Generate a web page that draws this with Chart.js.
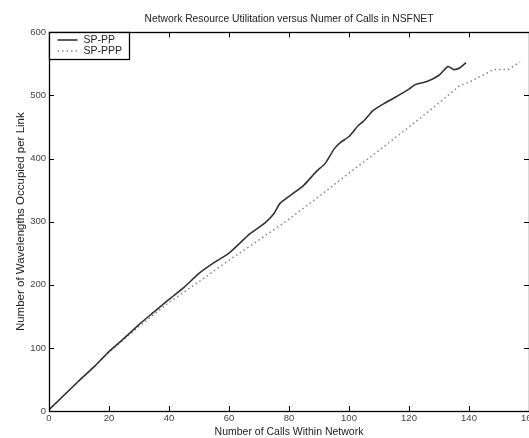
<!DOCTYPE html>
<html>
<head>
<meta charset="utf-8">
<script src="https://cdn.jsdelivr.net/npm/chart.js@4.4.1/dist/chart.umd.min.js"></script>
<style>
  html, body { margin: 0; padding: 0; background: #fff; }
  #wrap { width: 529px; height: 438px; }
</style>
</head>
<body>
<div id="wrap"><canvas id="plot" width="529" height="438"></canvas></div>
<script>
// values
const ppCalls = [0, 5, 10, 15, 20, 25, 30, 35, 40, 45, 50, 55, 60, 67, 72, 75, 77, 80, 85, 89, 92, 95, 97, 100, 103, 105, 108, 112, 115, 120, 122, 126, 130, 133, 135, 137, 139];
const ppWavelengths = [2, 25, 48, 70, 94, 115, 137, 157, 177, 196, 218, 235, 250, 281, 298, 313, 329, 340, 358, 379, 392, 415, 425, 435, 452, 460, 476, 488, 496, 510, 517, 522, 532, 546, 541, 544, 552];

const pppCalls = [0, 10, 20, 30, 40, 50, 60, 70, 80, 90, 100, 110, 120, 130, 137, 140, 145, 148, 153, 157];
const pppWavelengths = [2, 48, 93, 134, 172, 205, 239, 271, 304, 340, 377, 413, 450, 488, 516, 521, 533, 541, 541, 553];

const seriesNames = ["SP-PP", "SP-PPP"];
const xRange = [0, 160];
const yRange = [0, 600];

const fontFamily = "'Liberation Sans', Arial, sans-serif";

function pairs(xs, ys) {
  return xs.map((x, i) => ({ x: x, y: ys[i] }));
}

// matlab style box, inward ticks and legend
const matlabBox = {
  id: "matlabBox",
  afterDraw(chart) {
    const ctx = chart.ctx;
    const a = chart.chartArea;
    const xs = chart.scales.x;
    const ys = chart.scales.y;
    ctx.save();
    ctx.strokeStyle = "#000";
    ctx.lineWidth = 1;
    ctx.beginPath();
    xs.ticks.forEach((t) => {
      const px = Math.round(xs.getPixelForValue(t.value)) + 0.5;
      ctx.moveTo(px, a.bottom); ctx.lineTo(px, a.bottom - 5);
      ctx.moveTo(px, a.top); ctx.lineTo(px, a.top + 5);
    });
    ys.ticks.forEach((t) => {
      const py = Math.round(ys.getPixelForValue(t.value)) + 0.5;
      ctx.moveTo(a.left, py); ctx.lineTo(a.left + 5, py);
      ctx.moveTo(a.right, py); ctx.lineTo(a.right - 5, py);
    });
    ctx.stroke();
    ctx.lineWidth = 1.3;
    ctx.strokeRect(Math.round(a.left) + 0.5, Math.round(a.top) + 0.5,
      Math.round(a.right - a.left), Math.round(a.bottom - a.top));

    // legend box
    const lx = Math.round(a.left) + 0.5, ly = Math.round(a.top) + 0.5;
    const lw = 80, lh = 27;
    ctx.fillStyle = "#fff";
    ctx.fillRect(lx, ly, lw, lh);
    ctx.lineWidth = 1.3;
    ctx.strokeRect(lx, ly, lw, lh);
    ctx.font = "10.5px " + fontFamily;
    ctx.textBaseline = "middle";
    chart.data.datasets.forEach((ds, i) => {
      const yy = ly + 7.5 + i * 11;
      ctx.strokeStyle = ds.borderColor;
      ctx.lineWidth = ds.borderWidth;
      ctx.setLineDash(ds.borderDash || []);
      ctx.beginPath();
      ctx.moveTo(lx + 8, yy); ctx.lineTo(lx + 28, yy);
      ctx.stroke();
      ctx.setLineDash([]);
      ctx.fillStyle = "#222";
      ctx.fillText(ds.label, lx + 34, yy);
    });
    ctx.restore();
  }
};

const ctx = document.getElementById("plot").getContext("2d");
const chart = new Chart(ctx, {
  type: "line",
  data: {
    datasets: [
      {
        label: seriesNames[0],
        data: pairs(ppCalls, ppWavelengths),
        borderColor: "#333",
        borderWidth: 1.6,
        pointRadius: 0,
        tension: 0.2,
        fill: false
      },
      {
        label: seriesNames[1],
        data: pairs(pppCalls, pppWavelengths),
        borderColor: "#888",
        borderWidth: 1.5,
        borderDash: [1.5, 3],
        pointRadius: 0,
        tension: 0,
        fill: false
      }
    ]
  },
  options: {
    responsive: false,
    animation: false,
    layout: { padding: { left: 0, right: 0, top: 0, bottom: 0 } },
    plugins: {
      legend: { display: false },
      tooltip: { enabled: false },
      title: {
        display: true,
        fullSize: false,
        text: "Network Resource Utilitation versus Numer of Calls in NSFNET",
        color: "#222",
        font: { family: fontFamily, size: 10.3, weight: "normal" },
        padding: { top: 13, bottom: 7 }
      }
    },
    scales: {
      x: {
        type: "linear",
        min: xRange[0],
        max: xRange[1],
        ticks: {
          stepSize: 20,
          maxRotation: 0,
          color: "#444",
          padding: 2,
          font: { family: fontFamily, size: 9.5 }
        },
        grid: { display: false, drawTicks: false },
        border: { display: false },
        title: {
          display: true,
          text: "Number of Calls Within Network",
          color: "#222",
          padding: 0,
          font: { family: fontFamily, size: 10.5 }
        },
        afterFit(scale) {
          scale.height = 27;
          scale.paddingRight = 0;
          scale.paddingLeft = 0;
        }
      },
      y: {
        min: yRange[0],
        max: yRange[1],
        ticks: {
          stepSize: 100,
          color: "#444",
          padding: 3,
          font: { family: fontFamily, size: 9.5 }
        },
        grid: { display: false, drawTicks: false },
        border: { display: false },
        title: {
          display: true,
          text: "Number of Wavelengths Occupied per Link",
          color: "#222",
          padding: { top: 14, bottom: 0 },
          font: { family: fontFamily, size: 11.5 }
        },
        afterFit(scale) {
          scale.width = 49;
          scale.paddingTop = 0;
          scale.paddingBottom = 0;
        }
      }
    }
  },
  plugins: [matlabBox]
});
</script>
</body>
</html>
